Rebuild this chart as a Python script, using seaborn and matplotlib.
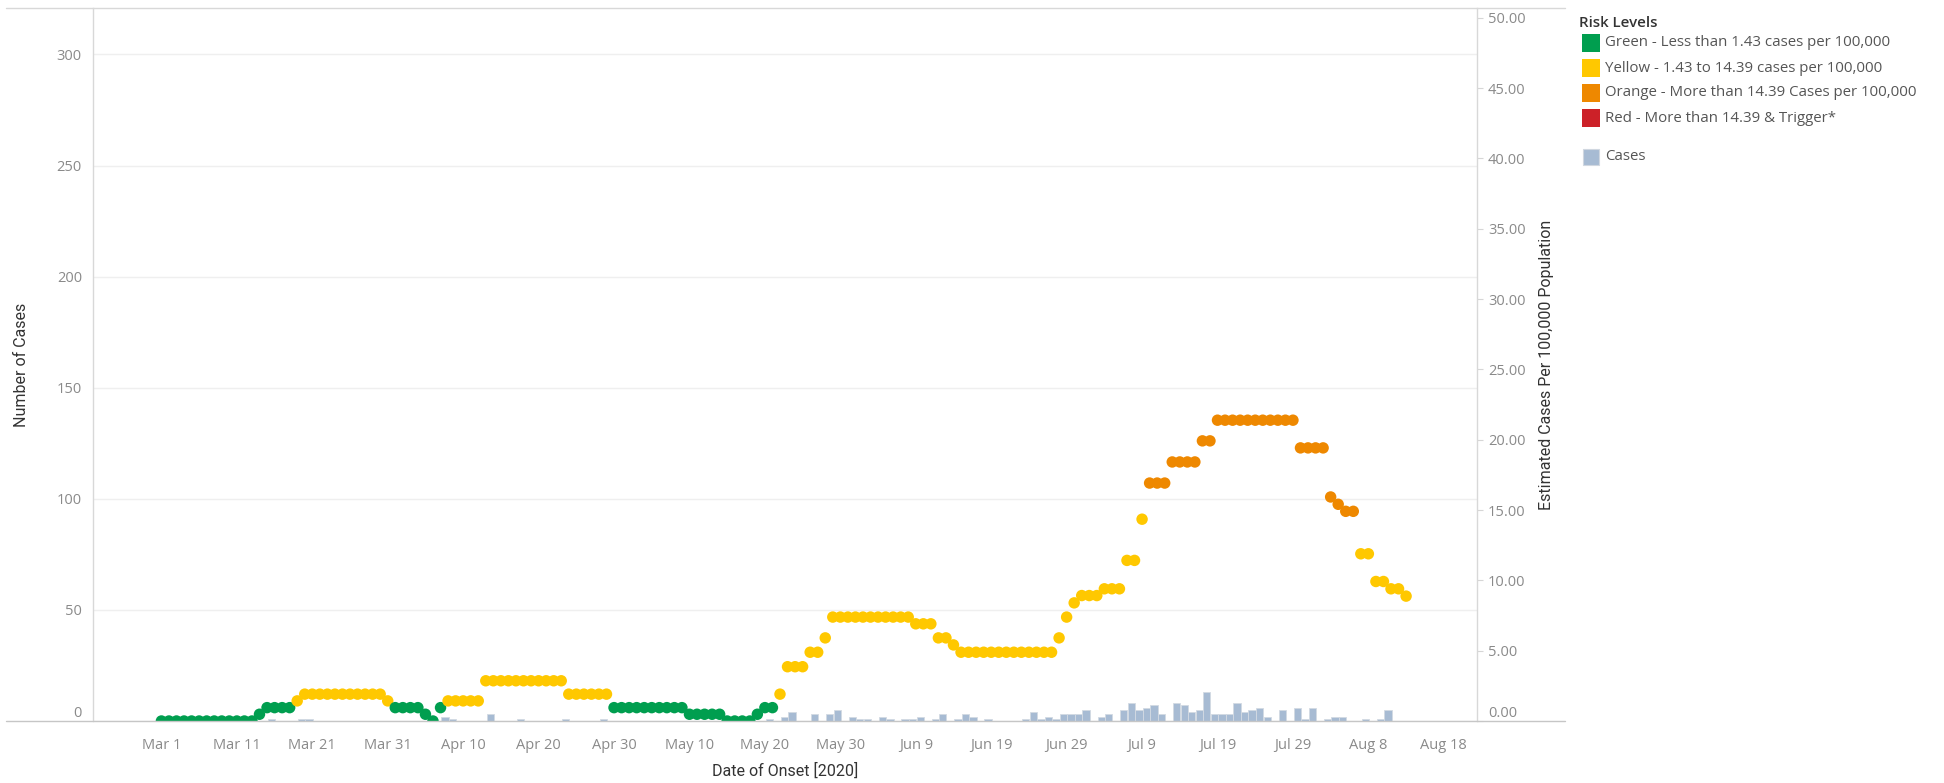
import numpy as np
import pandas as pd
import matplotlib
matplotlib.use("Agg")
import matplotlib.pyplot as plt
from matplotlib.lines import Line2D
from matplotlib.patches import Rectangle
from matplotlib import font_manager
import seaborn as sns

# ---------------- data ----------------
start_date = "2020-03-01"

# Estimated cases per 100,000 population (one value per day from Mar 1)
rate_per_100k = [
    0, 0, 0, 0, 0, 0, 0, 0, 0, 0,
    0, 0, 0, 0.48, 0.95, 0.95, 0.95, 0.95, 1.43, 1.91,
    1.91, 1.91, 1.91, 1.91, 1.91, 1.91, 1.91, 1.91, 1.91, 1.91,
    1.43, 0.95, 0.95, 0.95, 0.95, 0.48, 0, 0.95, 1.43, 1.43,
    1.43, 1.43, 1.43, 2.86, 2.86, 2.86, 2.86, 2.86, 2.86, 2.86,
    2.86, 2.86, 2.86, 2.86, 1.91, 1.91, 1.91, 1.91, 1.91, 1.91,
    0.95, 0.95, 0.95, 0.95, 0.95, 0.95, 0.95, 0.95, 0.95, 0.95,
    0.48, 0.48, 0.48, 0.48, 0.48, 0, 0, 0, 0, 0.48,
    0.95, 0.95, 1.91, 3.86, 3.86, 3.86, 4.89, 4.89, 5.91, 7.39,
    7.39, 7.39, 7.39, 7.39, 7.39, 7.39, 7.39, 7.39, 7.39, 7.39,
    6.91, 6.91, 6.91, 5.91, 5.91, 5.41, 4.89, 4.89, 4.89, 4.89,
    4.89, 4.89, 4.89, 4.89, 4.89, 4.89, 4.89, 4.89, 4.89, 5.91,
    7.39, 8.40, 8.92, 8.92, 8.92, 9.40, 9.40, 9.40, 11.42, 11.42,
    14.35, 16.92, 16.92, 16.92, 18.42, 18.42, 18.42, 18.42, 19.92, 19.92,
    21.39, 21.39, 21.39, 21.39, 21.39, 21.39, 21.39, 21.39, 21.39, 21.39,
    21.39, 19.42, 19.42, 19.42, 19.42, 15.93, 15.41, 14.91, 14.91, 11.89,
    11.89, 9.92, 9.92, 9.40, 9.40, 8.88,
]

# Daily number of cases by date of onset (one value per day from Mar 1)
daily_cases = [
    0, 0, 0, 0, 0, 0, 0, 0, 0, 0,
    0, 0, 0, 0, 1, 0, 0, 0, 1, 1,
    0, 0, 0, 0, 0, 0, 0, 0, 0, 0,
    0, 0, 0, 0, 0, 0, 0, 2, 1, 0,
    0, 0, 0, 3, 0, 0, 0, 1, 0, 0,
    0, 0, 0, 1, 0, 0, 0, 0, 1, 0,
    0, 0, 0, 0, 0, 0, 0, 0, 0, 0,
    0, 0, 0, 0, 0, 0, 0, 0, 0, 0,
    1, 0, 2, 4, 0, 0, 3, 0, 3, 5,
    0, 2, 1, 1, 0, 2, 1, 0, 1, 1,
    2, 0, 1, 3, 0, 1, 3, 2, 0, 1,
    0, 0, 0, 0, 1, 4, 1, 2, 1, 3,
    3, 3, 5, 0, 2, 3, 0, 5, 8, 5,
    6, 7, 3, 0, 8, 7, 4, 5, 13, 3,
    3, 3, 8, 4, 5, 6, 2, 0, 5, 0,
    6, 1, 6, 0, 1, 2, 2, 0, 0, 1,
    0, 1, 5, 0, 0, 0,
]

risk_labels = [
    "Green - Less than 1.43 cases per 100,000",
    "Yellow - 1.43 to 14.39 cases per 100,000",
    "Orange - More than 14.39 Cases per 100,000",
    "Red - More than 14.39 & Trigger*",
]
risk_colors = ["#009e4f", "#ffc800", "#ee8800", "#cc2128"]
risk_thresholds = [1.43, 14.39]
cases_label = "Cases"
cases_color = "#a7bbd3"
legend_title = "Risk Levels"

left_ticks = [0, 50, 100, 150, 200, 250, 300]
right_ticks = [0, 5, 10, 15, 20, 25, 30, 35, 40, 45, 50]
x_tick_start, x_tick_end = "2020-03-01", "2020-08-18"

x_title = "Date of Onset [2020]"
left_title = "Number of Cases"
right_title = "Estimated Cases Per 100,000 Population"

# ---------------- frame ----------------
dates = pd.date_range(start_date, periods=len(rate_per_100k), freq="D")


def risk_of(v):
    if v < risk_thresholds[0]:
        return risk_labels[0]
    if v <= risk_thresholds[1]:
        return risk_labels[1]
    return risk_labels[2]


df = pd.DataFrame({"date": dates, "rate": rate_per_100k, "cases": daily_cases})
df["risk"] = [risk_of(v) for v in df["rate"]]

sns.set_theme(style="white")
plt.rcParams["font.family"] = ["Open Sans", "DejaVu Sans"]


def has_font(name):
    try:
        font_manager.findfont(font_manager.FontProperties(family=name),
                              fallback_to_default=False)
        return True
    except Exception:
        return False


if has_font("Liberation Sans Narrow"):
    title_font = ["Liberation Sans Narrow", "DejaVu Sans"]
    title_size = 13.5
else:
    title_font = ["Roboto", "DejaVu Sans"]
    title_size = 11.5

W_PX, H_PX = 1944, 783


def fx(px):
    return px / W_PX


def fy(py):
    return 1 - py / H_PX


AX_L, AX_R, AX_T, AX_B = 93, 1477, 8, 721

fig = plt.figure(figsize=(W_PX / 100, H_PX / 100), dpi=100)
ax = fig.add_axes([fx(AX_L), fy(AX_B), (AX_R - AX_L) / W_PX, (AX_B - AX_T) / H_PX])
ax2 = ax.twinx()

# bars: cases (left axis)
ax.bar(df["date"] + pd.Timedelta(hours=14), df["cases"], width=0.97,
       color=cases_color, edgecolor="#d3dae3", linewidth=0.6, zorder=2)

# dots: rate per 100k (right axis)
palette = dict(zip(risk_labels, risk_colors))
sns.scatterplot(data=df, x="date", y="rate", hue="risk", palette=palette,
                s=68, edgecolor="none", linewidth=0, legend=False, ax=ax2,
                zorder=3)

# limits
ax.set_xlim(pd.Timestamp(start_date) - pd.Timedelta(days=9.07),
            pd.Timestamp(start_date) + pd.Timedelta(days=174.4))
ax.set_ylim(0, 320.9)
ax2.set_ylim(0, 50.7)

# x ticks
xt = pd.date_range(x_tick_start, x_tick_end, freq="10D")
ax.set_xticks(xt)
ax.set_xticklabels([f"{d:%b} {d.day}" for d in xt])
ax.tick_params(axis="x", length=5, width=0.8, color="#dcdcdc", pad=7,
               labelsize=10.5, labelcolor="#8a8a8a", direction="out")

# left y ticks
ax.set_yticks(left_ticks)
lt = ax.set_yticklabels([str(v) for v in left_ticks])
ax.tick_params(axis="y", length=0, pad=8, labelsize=10.5, labelcolor="#8a8a8a")
lt[0].set_verticalalignment("bottom")
ax.yaxis.grid(True, color="#efefef", linewidth=1.0)
ax.xaxis.grid(False)
ax.set_axisbelow(True)

# right y ticks
ax2.set_yticks(right_ticks)
rt = ax2.set_yticklabels([f"{v:.2f}" for v in right_ticks])
ax2.tick_params(axis="y", length=4, width=0.8, color="#d6d6d6", pad=4,
                labelsize=10.5, labelcolor="#8a8a8a", direction="out")
rt[0].set_verticalalignment("bottom")
ax2.grid(False)

# spines
for a in (ax, ax2):
    for s in ("top", "bottom"):
        a.spines[s].set_visible(False)
ax.spines["right"].set_visible(False)
ax2.spines["left"].set_visible(False)
ax.spines["left"].set_color("#d8d8d8")
ax.spines["left"].set_linewidth(1.0)
ax2.spines["right"].set_color("#d8d8d8")
ax2.spines["right"].set_linewidth(1.0)

# frame lines across the whole view
fig.add_artist(Line2D([fx(6), fx(1565)], [fy(AX_B), fy(AX_B)],
                      transform=fig.transFigure, color="#c6c6c6", lw=1.0))
fig.add_artist(Line2D([fx(6), fx(1565)], [fy(AX_T), fy(AX_T)],
                      transform=fig.transFigure, color="#d8d8d8", lw=1.0))

# axis titles
ax.set_xlabel(x_title, family=title_font, fontsize=title_size, color="#333333")
ax.xaxis.set_label_coords(0.5, (AX_B - 771) / (AX_B - AX_T))
ax.xaxis.label.set_verticalalignment("center")
ax.set_ylabel(left_title, family=title_font, fontsize=title_size, color="#333333")
ax.yaxis.set_label_coords((22 - AX_L) / (AX_R - AX_L), 0.5)
ax.yaxis.label.set_verticalalignment("center")
ax2.set_ylabel(right_title, family=title_font, fontsize=title_size, color="#333333")
ax2.yaxis.set_label_coords((1546 - AX_L) / (AX_R - AX_L), 0.5)
ax2.yaxis.label.set_verticalalignment("center")
ax2.yaxis.label.set_horizontalalignment("center")

# legend (Tableau-style, drawn in figure space)
fig.text(fx(1579), fy(23), legend_title, fontsize=10.8, fontweight="semibold",
         color="#333333", ha="left", va="center")
row_y = [43, 68, 93, 118]
for lab, col, yy in zip(risk_labels, risk_colors, row_y):
    fig.add_artist(Rectangle((fx(1582), fy(yy + 9)), 18 / W_PX, 18 / H_PX,
                             transform=fig.transFigure, facecolor=col,
                             edgecolor="none"))
    fig.text(fx(1605), fy(yy), lab, fontsize=10.8, color="#555555",
             ha="left", va="center")
fig.add_artist(Rectangle((fx(1583), fy(157 + 8)), 16 / W_PX, 16 / H_PX,
                         transform=fig.transFigure, facecolor=cases_color,
                         edgecolor="#d0d7e0", linewidth=0.8))
fig.text(fx(1605), fy(157), cases_label, fontsize=10.8, color="#555555",
         ha="left", va="center")

fig.savefig("out.png", dpi=100, facecolor="white")
